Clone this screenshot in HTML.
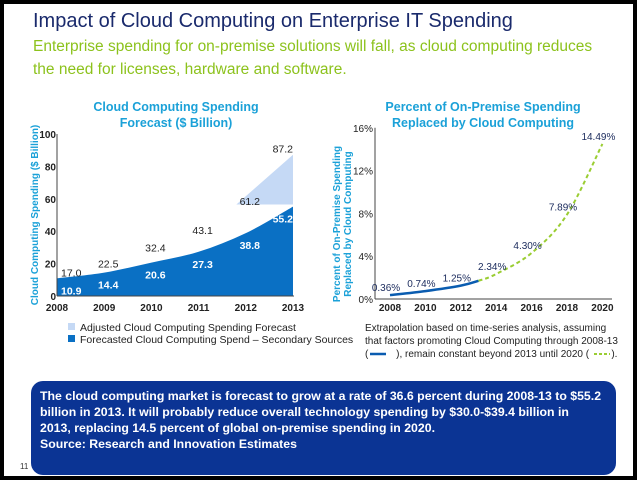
<!DOCTYPE html>
<html><head><meta charset="utf-8">
<style>
body{margin:0;background:#fff;}
#frame{position:relative;width:640px;height:481px;overflow:hidden;font-family:"Liberation Sans",sans-serif;}
svg text{font-family:"Liberation Sans",sans-serif;}
</style></head>
<body>
<div id="frame">
<svg width="640" height="481" viewBox="0 0 640 481" xmlns="http://www.w3.org/2000/svg" id="svg">
<rect x="2" y="2" width="633" height="476" fill="#fff" stroke="#000" stroke-width="4"/>
<text x="33" y="27" font-size="20" fill="#1a2a6c">Impact of Cloud Computing on Enterprise IT Spending</text>
<text x="33" y="51" font-size="15.5" fill="#8cc21c">Enterprise spending for on-premise solutions will fall, as cloud computing reduces</text>
<text x="33" y="74" font-size="15.5" fill="#8cc21c">the need for licenses, hardware and software.</text>

<g id="left">
<text x="176" y="111" font-size="12.5" font-weight="bold" fill="#1ba1d8" text-anchor="middle">Cloud Computing Spending</text>
<text x="176" y="127" font-size="12.5" font-weight="bold" fill="#1ba1d8" text-anchor="middle">Forecast ($ Billion)</text>
<text transform="translate(38,215) rotate(-90)" font-size="10" font-weight="bold" fill="#1ba1d8" text-anchor="middle">Cloud Computing Spending ($ Billion)</text>
</g>

<g id="right">
<text x="483" y="111" font-size="12.5" font-weight="bold" fill="#1ba1d8" text-anchor="middle">Percent of On-Premise Spending</text>
<text x="483" y="127" font-size="12.5" font-weight="bold" fill="#1ba1d8" text-anchor="middle">Replaced by Cloud Computing</text>
<text transform="translate(340,224) rotate(-90)" font-size="10" font-weight="bold" fill="#1ba1d8" text-anchor="middle">Percent of On-Premise Spending</text>
<text transform="translate(351,224) rotate(-90)" font-size="10" font-weight="bold" fill="#1ba1d8" text-anchor="middle">Replaced by Cloud Computing</text>
</g>

<rect x="68" y="323" width="7" height="7" fill="#c5d9f5"/>
<text x="80" y="331" font-size="10.5" fill="#222">Adjusted Cloud Computing Spending Forecast</text>
<rect x="68" y="335" width="7" height="7" fill="#0a70c4"/>
<text x="80" y="343" font-size="10.5" fill="#222">Forecasted Cloud Computing Spend – Secondary Sources</text>

<text x="365" y="331" font-size="10" fill="#222">Extrapolation based on time-series analysis, assuming</text>
<text x="365" y="344" font-size="10" fill="#222">that factors promoting Cloud Computing through 2008-13</text>
<text x="365" y="357" font-size="10" fill="#222">(<tspan fill="#fff">_____</tspan>), remain constant beyond 2013 until 2020 (<tspan fill="#fff">____</tspan>).</text>
<line x1="370" y1="354" x2="386" y2="354" stroke="#0a5cb0" stroke-width="2.5"/>
<line x1="594" y1="354" x2="610" y2="354" stroke="#9acd32" stroke-width="2" stroke-dasharray="3,2"/>

<rect x="31" y="381" width="585" height="94" rx="12" fill="#0b3494"/>
<g font-size="12.3" font-weight="bold" fill="#fff">
<text x="40" y="400">The cloud computing market is forecast to grow at a rate of 36.6 percent during 2008-13 to $55.2</text>
<text x="40" y="416">billion in 2013. It will probably reduce overall technology spending by $30.0-$39.4 billion in</text>
<text x="40" y="432">2013, replacing 14.5 percent of global on-premise spending in 2020.</text>
<text x="40" y="448">Source: Research and Innovation Estimates</text>
</g>
<text x="20" y="469" font-size="8" fill="#333" font-family="Liberation Serif">11</text>
</svg>
</div>
<script>
const years = [2008, 2009, 2010, 2011, 2012, 2013];
const forecastValues = [10.9, 14.4, 20.6, 27.3, 38.8, 55.2];
const adjustedValues = [17.0, 22.5, 32.4, 43.1, 61.2, 87.2];
const leftTicks = [0, 20, 40, 60, 80, 100];
const pctYears = [2008, 2010, 2012, 2013, 2014, 2016, 2018, 2020];
const pctValues = [0.36, 0.74, 1.25, 1.7, 2.34, 4.30, 7.89, 14.49];
const pctLabels = ["0.36%", "0.74%", "1.25%", "", "2.34%", "4.30%", "7.89%", "14.49%"];
const pctXTicks = [2008, 2010, 2012, 2014, 2016, 2018, 2020];
const pctYTicks = [0, 4, 8, 12, 16];

const NS = "http://www.w3.org/2000/svg";
function mk(tag, attrs, parent, txt) {
  const e = document.createElementNS(NS, tag);
  for (const k in attrs) e.setAttribute(k, attrs[k]);
  if (txt !== undefined) e.textContent = txt;
  parent.appendChild(e);
  return e;
}
function smooth(pts, a, b, move) {
  let s = move ? "M" + pts[a][0] + "," + pts[a][1] : "";
  for (let i = a; i < b; i++) {
    const p0 = pts[Math.max(i - 1, 0)], p1 = pts[i], p2 = pts[i + 1], p3 = pts[Math.min(i + 2, pts.length - 1)];
    const c1x = p1[0] + (p2[0] - p0[0]) / 6, c1y = p1[1] + (p2[1] - p0[1]) / 6;
    const c2x = p2[0] - (p3[0] - p1[0]) / 6, c2y = p2[1] - (p3[1] - p1[1]) / 6;
    s += ` C${c1x},${c1y} ${c2x},${c2y} ${p2[0]},${p2[1]}`;
  }
  return s;
}
const L = document.getElementById('left');
const R = document.getElementById('right');
const lx = y => 57 + (y - 2008) * 47.2;
const ly = v => 296 - v * 1.62;

const lpts = years.map((y, i) => [lx(y), ly(forecastValues[i])]);
let d = "M" + lx(years[0]) + "," + ly(0) + " L" + lpts[0][0] + "," + lpts[0][1];
d += smooth(lpts, 0, lpts.length - 1, false);
d += " L" + lx(years[years.length - 1]) + "," + ly(0) + " Z";
const area = mk('path', {d: d, fill: '#0a70c4'}, L);



const last = years.length - 1;
const tri = mk('polygon', {points: `${lx(2011.8)},${ly(56.5)} ${lx(years[last])},${ly(56.5)} ${lx(years[last])},${ly(adjustedValues[last])}`, fill: '#c5d9f5'}, L);



const ax = mk('line', {x1: 57, y1: ly(100), x2: 57, y2: ly(0), stroke: '#444', 'stroke-width': 1}, L);


const axx = mk('line', {x1: 57, y1: ly(0), x2: 294, y2: ly(0), stroke: '#444', 'stroke-width': 1}, L);


leftTicks.forEach(t => {
  const tl = mk('text', {x: 56, y: ly(t) + 4, 'font-size': 10, 'font-weight': 'bold', fill: '#222', 'text-anchor': 'end'}, L, String(t));
  
  
});
years.forEach((y, i) => {
  const tl = mk('text', {x: lx(y), y: 311, 'font-size': 10, 'font-weight': 'bold', fill: '#222', 'text-anchor': 'middle'}, L, String(y));
  
  
  const anchor = i === 0 ? 'start' : (i === last ? 'end' : 'middle');
  const xx = i === 0 ? lx(y) + 4 : (i === last ? lx(y) : lx(y) + 4);
  const a = mk('text', {x: xx, y: ly(adjustedValues[i]) + 8 - (i === last ? 10 : 0), 'font-size': 10.5, fill: '#222', 'text-anchor': anchor}, L, adjustedValues[i].toFixed(1));
  
  
  const f = mk('text', {x: xx, y: ly(forecastValues[i]) + 16, 'font-size': 10.5, 'font-weight': 'bold', fill: '#fff', 'text-anchor': anchor}, L, forecastValues[i].toFixed(1));
  
  
});

const rx = y => 390 + (y - 2008) * 17.7;
const ry = v => 299 - v * 10.7;
const rax = mk('line', {x1: 375, y1: ry(16), x2: 375, y2: ry(0), stroke: '#444'}, R);


const rxx = mk('line', {x1: 375, y1: ry(0), x2: 612, y2: ry(0), stroke: '#444'}, R);


pctYTicks.forEach(t => {
  const tl = mk('text', {x: 373, y: ry(t) + 4, 'font-size': 10, fill: '#222', 'text-anchor': 'end'}, R, t + "%");
  
  
});
pctXTicks.forEach(y => {
  const tl = mk('text', {x: rx(y), y: 311, 'font-size': 10, 'font-weight': 'bold', fill: '#222', 'text-anchor': 'middle'}, R, String(y));
  
  
});
const splitIdx = pctYears.indexOf(2013);
const rpts = pctYears.map((y, i) => [rx(y), ry(pctValues[i])]);
const solid = mk('path', {d: smooth(rpts, 0, splitIdx, true), fill: 'none', stroke: '#0a5cb0', 'stroke-width': 2.5}, R);


const dash = mk('path', {d: smooth(rpts, splitIdx, rpts.length - 1, true), fill: 'none', stroke: '#9acd32', 'stroke-width': 2, 'stroke-dasharray': '4,3'}, R);


pctYears.forEach((y, i) => {
  if (!pctLabels[i]) return;
  const lbl = mk('text', {x: rx(y) - 4, y: ry(pctValues[i]) - 4, 'font-size': 10, fill: '#1a2a5c', 'text-anchor': 'middle'}, R, pctLabels[i]);
  
  
});
</script>
</body></html>
